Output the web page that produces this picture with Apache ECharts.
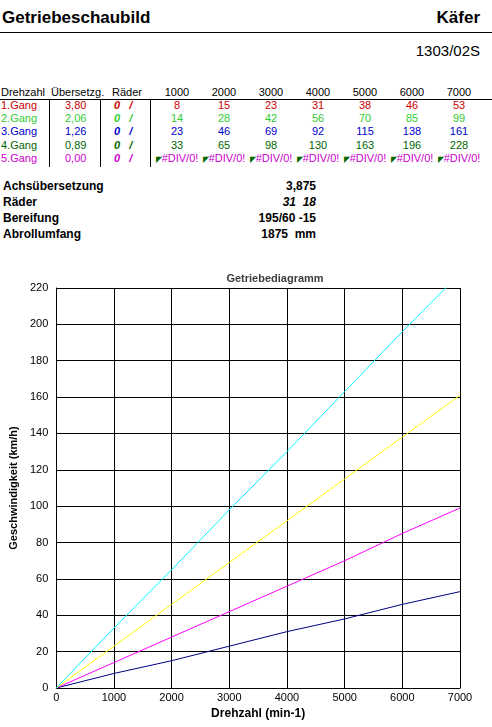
<!DOCTYPE html><html><head><meta charset="utf-8">
<script src="https://cdn.jsdelivr.net/npm/echarts@6/dist/echarts.min.js"></script>
<style>
body{margin:0;width:492px;height:727px;position:relative;font-family:"Liberation Sans",Arial,sans-serif;background:#fff;overflow:hidden}
.a{position:absolute;white-space:nowrap}
.c{position:absolute;font-size:11px;text-align:center;width:46px}
</style></head><body>
<div class="a" style="left:2px;top:8px;font-size:17px;font-weight:bold">Getriebeschaubild</div>
<div class="a" style="right:12px;top:8px;font-size:17px;font-weight:bold">Käfer</div>
<div class="a" style="left:0;top:32px;width:492px;border-top:1px solid #000"></div>
<div class="a" style="right:12px;top:42px;font-size:15px">1303/02S</div>
<div id="tbl"></div>
<div id="info"></div>
<div id="chart" style="position:absolute;left:0;top:262px;width:492px;height:465px"></div>
<script>
const rpm = [1000,2000,3000,4000,5000,6000,7000];
const gears = ["1.Gang","2.Gang","3.Gang","4.Gang","5.Gang"];
const ratios = ["3,80","2,06","1,26","0,89","0,00"];
const gearColors = ["#cc0000","#33cc33","#0000cc","#006600","#cc00cc"];
const g1 = [8,15,23,31,38,46,53];
const g2 = [14,28,42,56,70,85,99];
const g3 = [23,46,69,92,115,138,161];
const g4 = [33,65,98,130,163,196,228];
const rows = [g1,g2,g3,g4,null];
const infoLabels = ["Achsübersetzung","Räder","Bereifung","Abrollumfang"];
const infoValues = ["3,875","<i>31 &nbsp;18</i>","195/60 -15","1875 &nbsp;mm"];

let h = '';
const top0 = 86, rh = 13.2;
h += `<div class="a" style="left:1px;top:${top0}px;font-size:11px">Drehzahl</div>`;
h += `<div class="a" style="left:51px;top:${top0}px;font-size:11px">Übersetzg.</div>`;
h += `<div class="a" style="left:112px;top:${top0}px;font-size:11px">Räder</div>`;
rpm.forEach((r,i)=>{h+=`<div class="c" style="left:${154+i*47}px;top:${top0}px">${r}</div>`});
h += `<div class="a" style="left:0;top:${top0+13}px;width:492px;border-top:1px solid #000"></div>`;
[49,100,150].forEach(x=>{h+=`<div class="a" style="left:${x}px;top:${top0+13}px;height:${5*rh+2}px;border-left:1px solid #000"></div>`});
gears.forEach((g,k)=>{
  const y = top0+13+k*rh, col = gearColors[k];
  h += `<div class="a" style="left:1px;top:${y}px;font-size:11px;color:${col}">${g}</div>`;
  h += `<div class="a" style="left:65px;top:${y}px;font-size:11px;color:${col}">${ratios[k]}</div>`;
  h += `<div class="a" style="left:114px;top:${y}px;font-size:11px;color:${col};font-weight:bold;font-style:italic">0 &nbsp;&nbsp;/</div>`;
  rpm.forEach((r,i)=>{
    const t = rows[k] ? rows[k][i] : '<span style="color:#060;font-size:8px">◤</span>#DIV/0!';
    h += `<div class="c" style="left:${154+i*47}px;top:${y}px;color:${col}">${t}</div>`;
  });
});
document.getElementById('tbl').innerHTML = h;
let s='';
infoLabels.forEach((l,i)=>{
  const y=179+i*16;
  s+=`<div class="a" style="left:3px;top:${y}px;font-size:12px;font-weight:bold">${l}</div>`;
  s+=`<div class="a" style="right:176px;top:${y}px;font-size:12px;font-weight:bold">${infoValues[i]}</div>`;
});
document.getElementById('info').innerHTML = s;

const xs = [0].concat(rpm);
const mk = a => xs.map((x,i)=>[x, i===0?0:a[i-1]]);
const lineColors = ["#000080","#ff00ff","#ffff00","#00ffff"];
const chart = echarts.init(document.getElementById('chart'));
chart.setOption({
  animation:false,
  title:{text:'Getriebediagramm',left:270,top:6,textAlign:'center',textStyle:{fontSize:11,fontWeight:'bold',fontFamily:'Liberation Sans'}},
  grid:{left:51,right:32,top:26,bottom:39},
  xAxis:{type:'value',min:0,max:7000,interval:1000,name:'Drehzahl (min-1)',nameLocation:'middle',nameGap:14,
    nameTextStyle:{fontWeight:'bold',fontSize:12,color:'#000'},
    axisLine:{lineStyle:{color:'#000'}},axisTick:{show:false},axisLabel:{color:'#000',fontSize:11,margin:4,formatter:v=>String(v)},
    splitLine:{lineStyle:{color:'#000'}}},
  yAxis:{type:'value',min:0,max:220,interval:20,name:'Geschwindigkeit (km/h)',nameLocation:'middle',nameGap:36,
    nameTextStyle:{fontWeight:'bold',fontSize:11,color:'#000'},
    axisLine:{show:true,lineStyle:{color:'#000'}},axisTick:{show:false},axisLabel:{color:'#000',fontSize:11},
    splitLine:{lineStyle:{color:'#000'}}},
  series:[g1,g2,g3,g4].map((a,i)=>({type:'line',data:mk(a),symbol:'none',clip:true,
    lineStyle:{color:lineColors[i],width:1}}))
});
</script></body></html>
